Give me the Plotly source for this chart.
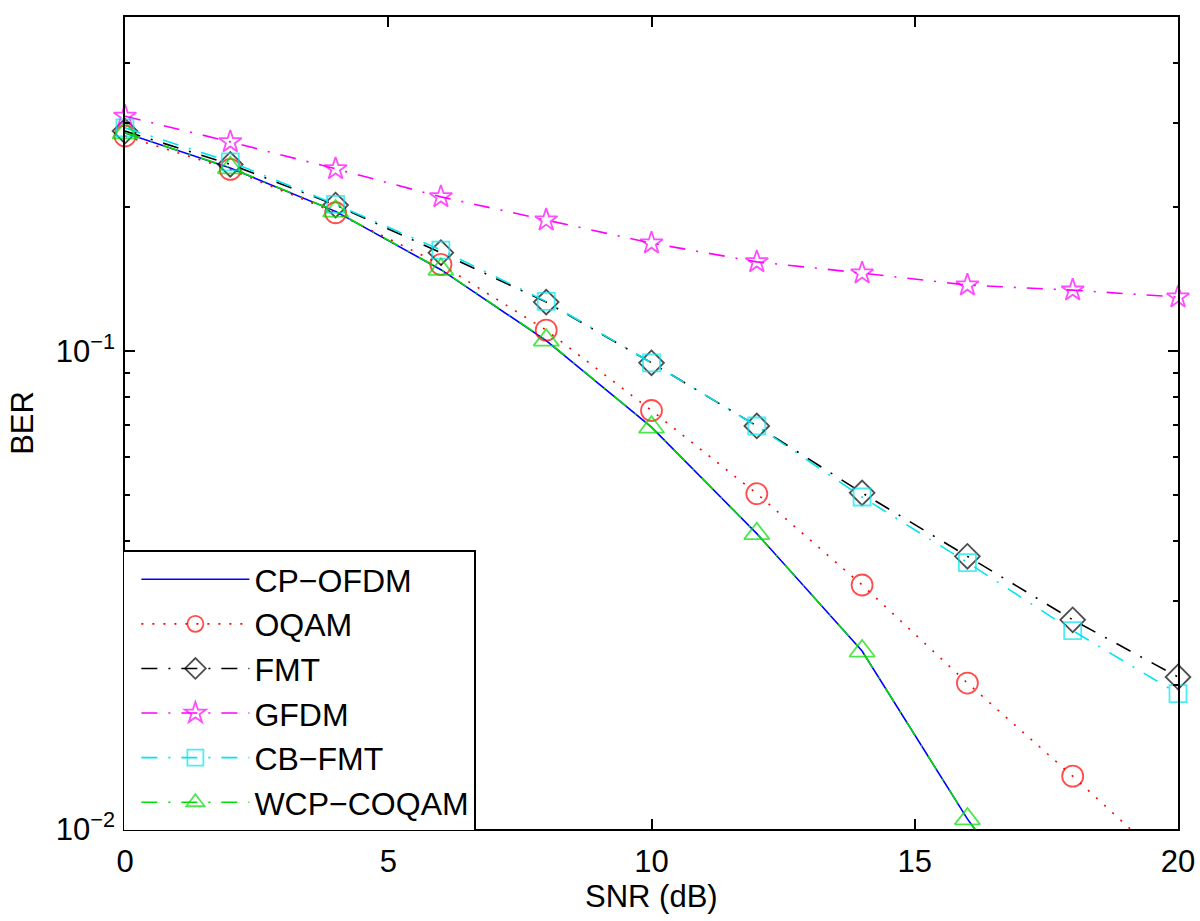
import plotly.graph_objects as go

# ---------------- data ----------------
snr = [0, 2, 4, 6, 8, 10, 12, 14, 16, 18, 20]

cp_ofdm   = [0.2860, 0.2415, 0.1960, 0.1480, 0.1052, 0.0693, 0.0415, 0.02357, 0.0105, 0.0052, 0.0022]
oqam      = [0.2818, 0.2399, 0.1947, 0.1518, 0.1106, 0.0751, 0.0503, 0.0324, 0.0202, 0.0129, 0.0081]
fmt       = [0.2886, 0.2458, 0.2021, 0.1606, 0.1266, 0.0945, 0.0697, 0.0505, 0.0372, 0.0274, 0.0208]
gfdm      = [0.3100, 0.2740, 0.2406, 0.2102, 0.1880, 0.1682, 0.1537, 0.1456, 0.1374, 0.1341, 0.1297]
cb_fmt    = [0.2932, 0.2489, 0.2027, 0.1627, 0.1270, 0.0945, 0.0697, 0.0495, 0.0361, 0.0260, 0.0192]
wcp_coqam = [0.2862, 0.2418, 0.1963, 0.1482, 0.1054, 0.0693, 0.0415, 0.02357, 0.0105, 0.0052, 0.0022]

names = ["CP\u2212OFDM", "OQAM", "FMT", "GFDM", "CB\u2212FMT", "WCP\u2212COQAM"]

x_ticks = [0, 5, 10, 15, 20]
y_major = [0.01, 0.1]
y_major_text = ["10<sup>\u22122</sup>", "10<sup>\u22121</sup>"]
y_minor = [0.02, 0.03, 0.04, 0.05, 0.06, 0.07, 0.08, 0.09, 0.2, 0.3, 0.4]
y_min, y_max = 0.01, 0.5

# ---------------- styles ----------------
FONT = "Liberation Sans, Arial, Helvetica, sans-serif"
DASHDOT = "16px,11px,2px,11px"
DOT = "2px,9px"

series = [
    (names[0], cp_ofdm,   "#0000ff", "solid", None, 0),
    (names[1], oqam,      "#ff0000", DOT, "circle-open", 21),
    (names[2], fmt,       "#000000", DASHDOT, "diamond-open", 19),
    (names[3], gfdm,      "#ff00ff", DASHDOT, "star-open", 17),
    (names[4], cb_fmt,    "#00e5ee", DASHDOT, "square-open", 17),
    (names[5], wcp_coqam, "#00dd00", DASHDOT, "triangle-up-open", 22),
]

fig = go.Figure()
for name, vals, color, dash, symbol, msize in series:
    if symbol is None:
        fig.add_trace(go.Scatter(
            x=snr, y=vals, name=name, mode="lines",
            line=dict(color=color, width=1.6, dash=dash),
        ))
    else:
        sizes = [msize if v >= y_min else 0 for v in vals]
        fig.add_trace(go.Scatter(
            x=snr, y=vals, name=name, mode="lines+markers",
            line=dict(color=color, width=1.6, dash=dash),
            marker=dict(symbol=symbol, size=sizes, color=color,
                        line=dict(color=color, width=1.8)),
            cliponaxis=False,
        ))

axis_common = dict(
    showline=True, linecolor="black", linewidth=1.5, mirror="ticks",
    ticks="inside", ticklen=10, tickwidth=1.5, tickcolor="black",
    showgrid=False, zeroline=False, automargin=False,
    tickfont=dict(family=FONT, size=31, color="black"),
)

fig.update_xaxes(
    range=[0, 20], tickmode="array", tickvals=x_ticks,
    ticktext=[str(t) for t in x_ticks], ticklabelstandoff=4,
    **axis_common,
)
fig.update_yaxes(
    type="log", range=[-2, 0.69897 - 1],
    tickmode="array", tickvals=y_major, ticktext=y_major_text,
    ticklabelstandoff=2,
    minor=dict(tickmode="array", tickvals=y_minor, ticks="inside",
               ticklen=5, tickwidth=1.5, tickcolor="black"),
    **axis_common,
)

fig.update_layout(
    width=1200, height=921,
    margin=dict(l=125, r=22, t=17, b=92, autoexpand=False),
    paper_bgcolor="white", plot_bgcolor="white",
    font=dict(family=FONT, color="black"),
    showlegend=True,
    legend=dict(
        x=-0.002, y=-0.003, xanchor="left", yanchor="bottom",
        bgcolor="white", bordercolor="black", borderwidth=1.5,
        font=dict(family=FONT, size=32, color="black"),
        itemwidth=108, tracegroupgap=0, indentation=12,
    ),
    annotations=[
        dict(text="BER", xref="paper", yref="paper", x=-0.098, y=0.5,
             xanchor="center", yanchor="middle", textangle=-90, showarrow=False,
             font=dict(family=FONT, size=31, color="black")),
        dict(text="SNR (dB)", xref="paper", yref="paper", x=0.5, y=-0.083,
             xanchor="center", yanchor="middle", showarrow=False,
             font=dict(family=FONT, size=31, color="black")),
    ],
)

fig.write_html("out.html", config={"displayModeBar": False},
               post_script="document.body.style.margin='0';")
